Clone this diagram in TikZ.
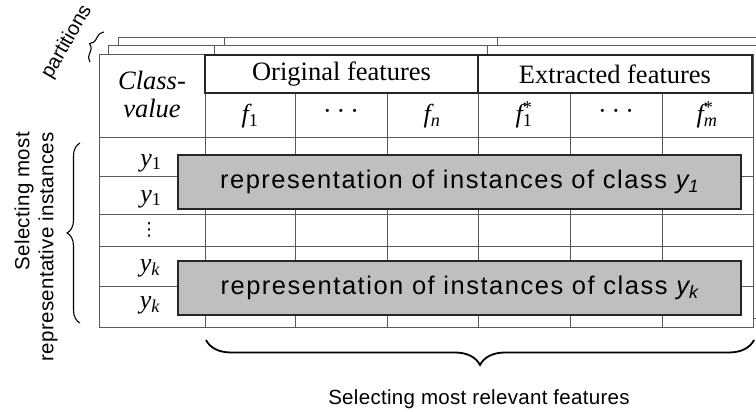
\documentclass[tikz,border=0pt]{standalone}
\usepackage{fontspec}
\newfontfamily\labfont[LetterSpace=1.5]{Liberation Sans}
\newfontfamily\plainsans{Liberation Sans}
\newfontfamily\repfont[LetterSpace=6]{Liberation Sans}
\newfontfamily\mfont{Liberation Serif}
\newfontfamily\dvfont{DejaVu Sans}
\usetikzlibrary{decorations.pathreplacing}
\newcommand\mysub[1]{\textsubscript{\upshape #1}}
\newcommand\mystar[2]{#1\rlap{\textsuperscript{\upshape *}}\textsubscript{\upshape #2}}
\newcommand\mydots{\textperiodcentered\hspace{5pt}\textperiodcentered\hspace{5pt}\textperiodcentered}
\begin{document}
\begin{tikzpicture}[x=1pt,y=-1pt,
  gridline/.style={draw=black!65, line width=0.9pt},
  hdrbox/.style={draw=black!85, line width=1.4pt, inner sep=0pt, minimum height=38pt},
  graybox/.style={draw=black!85, fill=black!25, line width=1.2pt, inner sep=0pt, minimum width=563pt, minimum height=54pt},
  sertext/.style={font=\mfont\fontsize{26.5}{28}\selectfont},
  mathtext/.style={font=\mfont\itshape\fontsize{26}{28}\selectfont, inner sep=0pt},
  reptext/.style={font=\repfont\fontsize{25.5}{30}\selectfont},
  labtext/.style={font=\labfont\fontsize{20.5}{24}\selectfont},
  bracestyle/.style={decorate, line width=1.3pt}
]
\useasboundingbox (0,0) rectangle (756,412);
\clip (0,0) rectangle (756,412);

% partition layers behind
\foreach \k in {2,1} {
  \begin{scope}[shift={(9.5*\k,-8.5*\k)}]
    \draw[gridline, fill=white] (99,54) rectangle (753,327);
    \draw[gridline] (205,54) -- (205,327);
    \draw[gridline] (478,54) -- (478,93);
  \end{scope}
}

% main table
\draw[gridline, fill=white] (99,54) rectangle (753,327);
\draw[gridline] (205,93) -- (753,93);
\foreach \yy in {137,176,214,246,286} { \draw[gridline] (99,\yy) -- (753,\yy); }
\draw[gridline] (205,54) -- (205,327);
\draw[gridline] (478,54) -- (478,327);
\foreach \xx in {295,387,570,662} { \draw[gridline] (\xx,93) -- (\xx,327); }

% header boxes
\node[hdrbox, minimum width=273pt, sertext] (orig) at (341.5,74) {Original features};
\node[hdrbox, minimum width=274pt, sertext] (extr) at (615,74) {Extracted features};
\node[sertext, align=center, inner sep=0pt] (cls) at (152,94) {\itshape Class-\\\itshape value};

% feature labels
\node[mathtext] (f1) at (250,116) {f\mysub{1}};
\node[mathtext] (fd) at (341,114) {\upshape\mydots};
\node[mathtext] (fn) at (432,116) {f\mysub{\itshape n}};
\node[mathtext] (g1) at (524,115) {\mystar{f}{1}};
\node[mathtext] (gd) at (616,114) {\upshape\mydots};
\node[mathtext] (gm) at (707,115) {\mystar{f}{\itshape m}};

% row labels
\node[mathtext] (r1) at (151,163) {y\mysub{1}};
\node[mathtext] (r2) at (151,199) {y\mysub{1}};
\node[mathtext, font=\dvfont\fontsize{18}{20}\selectfont] (r3) at (149,230) {⋮};
\node[mathtext] (r4) at (150,268) {y\mysub{\itshape k}};
\node[mathtext] (r5) at (150,305) {y\mysub{\itshape k}};

% gray representation boxes
\node[graybox, reptext] (rep1) at (459.5,182) {representation of instances of class {\itshape y\textsubscript{1}}};
\node[graybox, reptext] (repk) at (459.5,288) {representation of instances of class {\itshape y\textsubscript{k}}};

% braces
\coordinate (lb1) at (80,323);
\coordinate (lb2) at (80,143);
\draw[bracestyle, line width=1.1pt, decoration={brace, amplitude=13pt}] (lb1) -- (lb2);
\coordinate (bb1) at (206,340);
\coordinate (bb2) at (754,340);
\draw[bracestyle, line width=1.8pt, decoration={brace, mirror, amplitude=25pt}] (bb1) -- (bb2);
\coordinate (pb1) at (90,62);
\coordinate (pb2) at (104,32);
\draw[bracestyle, line width=1.1pt, decoration={brace, amplitude=8pt}] (pb1) -- (pb2);

% labels
\node[font=\plainsans\fontsize{20}{24}\selectfont, rotate=60, inner sep=1pt] (part) at (67,42) {partitions};
\node[labtext, rotate=90, align=right, anchor=east, inner sep=0pt] (sel) at (36,132) {Selecting most\\representative instances};
\node[labtext] (rel) at (479,399) {Selecting most relevant features};
\end{tikzpicture}
\end{document}
